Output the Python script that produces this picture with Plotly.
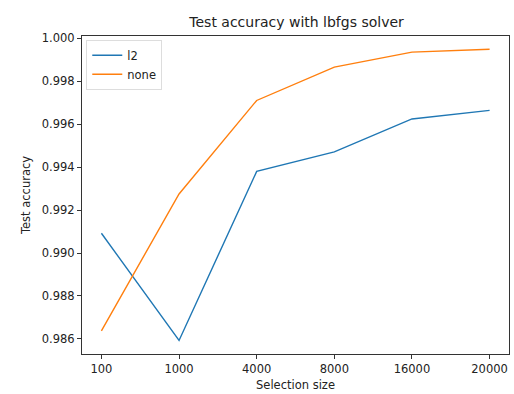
import plotly.graph_objects as go

sizes = ["100", "1000", "4000", "8000", "16000", "20000"]
l2_acc = [0.99092, 0.98593, 0.99380, 0.99471, 0.99624, 0.99664]
none_acc = [0.98638, 0.99275, 0.99710, 0.99865, 0.99935, 0.99948]
y_ticks = [0.986, 0.988, 0.990, 0.992, 0.994, 0.996, 0.998, 1.000]

FS = 11.5
txt = "#222"

fig = go.Figure()
fig.add_trace(go.Scatter(x=sizes, y=l2_acc, mode="lines", name="l2",
                         line=dict(color="#1f77b4", width=1.4)))
fig.add_trace(go.Scatter(x=sizes, y=none_acc, mode="lines", name="none",
                         line=dict(color="#ff7f0e", width=1.4)))

axis_common = dict(showline=True, linecolor="#333", linewidth=1, mirror=True,
                   ticks="outside", ticklen=4, tickcolor="#333", tickwidth=1,
                   showgrid=False, zeroline=False,
                   tickfont=dict(family="DejaVu Sans", size=FS, color=txt))

fig.update_layout(
    width=514, height=394,
    margin=dict(l=82, r=5, t=36, b=40),
    paper_bgcolor="white", plot_bgcolor="white",
    font=dict(family="DejaVu Sans", size=FS, color=txt),
    title=dict(text="Test accuracy with lbfgs solver", x=0.577, xanchor="center",
               y=1 - 22 / 394, yanchor="middle",
               font=dict(family="DejaVu Sans", size=14, color=txt)),
    xaxis=dict(type="category", range=[-0.25, 5.25],
               title=dict(text="Selection size", standoff=6,
                          font=dict(family="DejaVu Sans", size=FS, color=txt)),
               **axis_common),
    yaxis=dict(range=[0.9853, 1.0001], tickvals=y_ticks, tickformat=".3f",
               title=dict(text="Test accuracy", standoff=8,
                          font=dict(family="DejaVu Sans", size=FS, color=txt)),
               **axis_common),
    legend=dict(x=0.01, y=0.988, xanchor="left", yanchor="top", itemwidth=30,
                bgcolor="rgba(255,255,255,0.8)", bordercolor="#dddddd", borderwidth=1,
                font=dict(family="DejaVu Sans", size=FS, color=txt)),
    showlegend=True,
)

fig.write_html("out.html")
